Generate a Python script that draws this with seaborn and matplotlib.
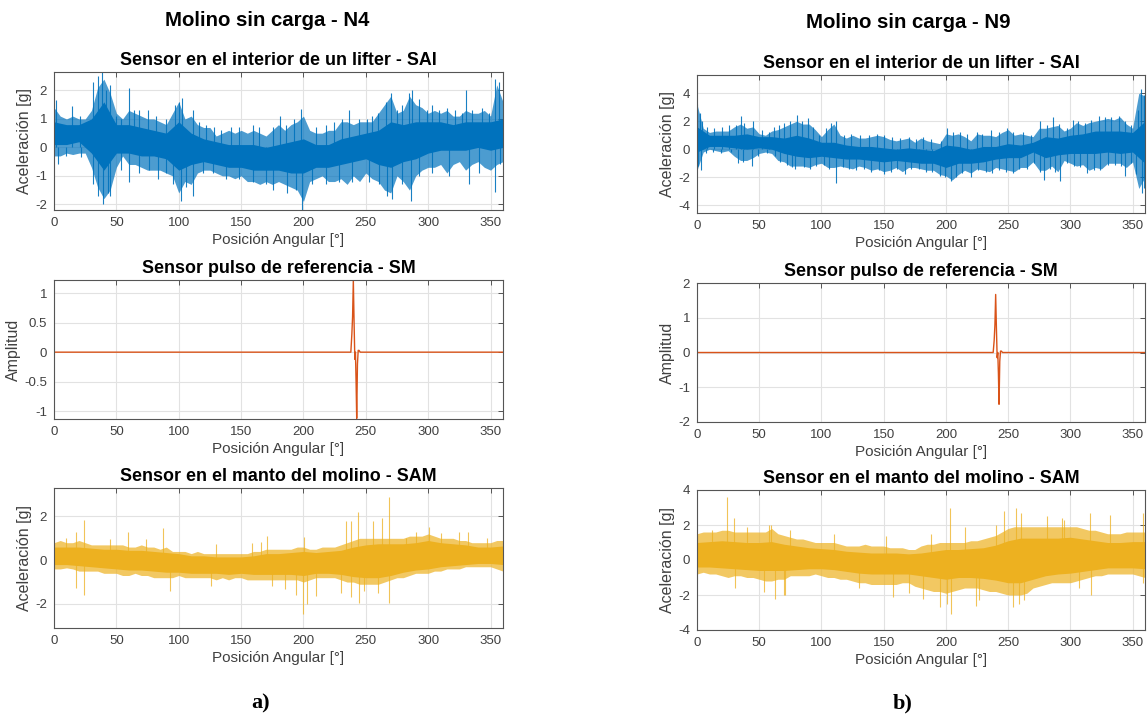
import numpy as np
import pandas as pd
import matplotlib
matplotlib.use('Agg')
import matplotlib.pyplot as plt
import seaborn as sns

sns.set_theme(style='white')
plt.rcParams['font.family'] = ['Liberation Sans', 'DejaVu Sans']

# ---------------- data ----------------
angle_env = list(range(0, 361, 5))     # outer envelope sample angles
angle_core = list(range(0, 361, 10))   # dense core sample angles

# N4 - SAI (sensor inside lifter)
n4_sai_hi = [1.4, 1.1, 1.0, 1.1, 1.0, 1.0, 1.3, 2.1, 2.4, 1.9, 1.2, 1.0, 1.3, 1.2, 1.1, 1.0, 1.0, 0.9, 0.8,
             1.2, 1.6, 1.0, 1.1, 0.8, 0.7, 0.7, 0.4, 0.5, 0.6, 0.5, 0.6, 0.5, 0.6, 0.5, 0.4, 0.6, 0.8,
             0.6, 0.8, 0.9, 1.1, 0.6, 0.5, 0.5, 0.6, 0.6, 0.9, 0.9, 0.8, 0.9, 0.9, 0.9, 1.2, 1.5, 1.8,
             1.2, 1.3, 1.8, 1.5, 1.4, 1.2, 1.3, 1.2, 1.3, 1.1, 1.1, 1.3, 1.2, 1.2, 1.3, 1.1, 2.2, 1.6]
n4_sai_lo = [-0.3, -0.3, -0.2, -0.25, -0.2, -0.2, -0.7, -1.4, -1.8, -1.5, -0.7, -0.3, -0.6, -0.6, -0.7, -0.8,
             -0.8, -0.8, -0.9, -1.0, -1.6, -1.2, -1.3, -0.9, -0.8, -0.8, -0.9, -1.0, -1.0, -1.1, -1.0, -1.2,
             -1.2, -1.3, -1.2, -1.3, -1.2, -1.3, -1.4, -1.5, -1.9, -1.2, -1.1, -1.0, -1.2, -1.2, -1.1, -1.3,
             -1.0, -1.2, -0.9, -1.1, -1.2, -1.5, -1.6, -1.0, -1.2, -1.5, -1.0, -0.8, -0.7, -0.7, -0.6, -0.9,
             -0.6, -0.5, -0.8, -0.6, -0.5, -0.7, -0.8, -0.6, -0.5]
n4_sai_core_lo = [0.1, 0.1, 0.2, -0.2, -0.8, -0.2, -0.2, -0.3, -0.3, -0.4, -0.8, -0.6, -0.5, -0.6, -0.7, -0.7,
                  -0.8, -0.8, -0.8, -0.9, -0.9, -0.7, -0.7, -0.6, -0.5, -0.4, -0.6, -0.7, -0.5, -0.4, -0.2,
                  -0.1, -0.1, -0.1, 0.0, -0.1, 0.0]
n4_sai_core_hi = [0.9, 0.8, 0.8, 1.0, 1.6, 0.8, 0.8, 0.7, 0.6, 0.5, 0.9, 0.5, 0.3, 0.2, 0.1, 0.1, 0.1, 0.0,
                  0.1, 0.2, 0.3, 0.1, 0.1, 0.3, 0.4, 0.5, 0.6, 0.9, 0.8, 0.9, 0.9, 0.9, 0.8, 0.9, 0.9, 0.9, 1.0]
n4_sai_peak_x = [1.9, 14.4, 20.5, 31.2, 35.2, 38.7, 41.9, 45.3, 49.9, 53.9, 60.5, 64, 68.5, 75.2, 81.9, 89.9,
                 97.3, 100.5, 102.7, 111.2, 116.5, 121.9, 128.5, 133.9, 141.9, 148.5, 159.2, 164.5, 175.2,
                 181.1, 185.9, 192.5, 198.4, 209.9, 217.9, 224.5, 231.2, 236.5, 244.5, 251.2, 255.2, 260,
                 265.9, 269.9, 275.2, 279.2, 284.5, 287.2, 292.5, 299.2, 303.2, 308.5, 315.2, 321.9, 327.2,
                 330.7, 335.2, 343.2, 348.5, 353.9, 356.5]
n4_sai_peak_y = [1.65, 1.45, 1.1, 2.3, 2.5, 2.65, 2.0, 2.2, 1.1, 1.0, 2.1, 1.3, 1.3, 1.3, 1.1, 1.0, 1.5, 1.6,
                 1.75, 1.3, 0.9, 0.8, 0.7, 0.6, 0.7, 0.7, 0.8, 0.7, 0.7, 1.1, 0.8, 1.0, 1.35, 0.7, 0.8, 0.9,
                 1.0, 1.3, 1.0, 1.0, 1.1, 1.2, 1.6, 1.9, 1.3, 1.5, 1.9, 2.0, 1.7, 1.3, 1.5, 1.3, 1.4, 1.3,
                 1.2, 2.0, 1.3, 1.4, 1.2, 2.4, 2.3]
n4_sai_trough_x = [3.2, 9.9, 21.9, 31.2, 35.2, 39.2, 43.2, 45.1, 53.9, 60.5, 68.5, 76.5, 83.2, 89.9, 95.2,
                   101.9, 105.9, 111.2, 119.2, 127.2, 137.9, 148.5, 159.2, 169.9, 175.2, 187.2, 193.9, 199.2,
                   207.2, 217.9, 228.5, 239.2, 252.5, 260.5, 267.2, 271.2, 279.2, 285.9, 292.5, 303.2, 316.5,
                   332.5, 340.5, 353.9, 357.9]
n4_sai_trough_y = [-0.6, -0.3, -0.35, -1.3, -1.7, -2.0, -1.6, -1.7, -0.8, -1.2, -0.9, -0.8, -1.1, -0.9, -1.3,
                   -1.9, -1.4, -1.7, -0.9, -0.9, -1.1, -1.1, -1.2, -1.3, -1.5, -1.6, -1.5, -2.2, -1.3, -1.3,
                   -1.2, -1.2, -1.2, -1.3, -1.7, -1.8, -1.3, -1.9, -1.0, -0.9, -1.0, -1.3, -0.9, -1.55, -0.6]

# N9 - SAI
n9_sai_hi = [3.2, 1.5, 1.2, 1.3, 1.3, 1.3, 1.6, 1.8, 1.5, 1.6, 1.1, 1.0, 1.3, 1.4, 1.6, 1.8, 2.0, 1.8, 1.8,
             1.4, 0.9, 1.4, 1.8, 1.0, 0.8, 1.0, 0.8, 0.8, 0.9, 1.0, 0.9, 0.7, 0.6, 0.7, 0.8, 0.5, 0.8,
             0.6, 0.5, 0.4, 1.1, 1.0, 1.1, 0.9, 0.6, 1.1, 1.0, 1.0, 0.9, 1.2, 1.4, 1.0, 1.1, 1.0, 0.9,
             1.5, 1.5, 1.6, 1.7, 1.3, 1.5, 1.9, 1.7, 1.9, 2.0, 2.1, 2.2, 2.1, 2.3, 1.8, 1.5, 4.0, 3.8]
n9_sai_lo = [-1.5, -0.2, 0.0, -0.1, -0.2, -0.1, -0.5, -0.8, -0.8, -0.6, -0.3, -0.2, -0.3, -0.8, -0.9, -1.2,
             -1.2, -1.2, -1.3, -1.1, -1.0, -1.3, -1.3, -1.2, -1.3, -1.4, -1.2, -1.3, -1.5, -1.4, -1.6, -1.5,
             -1.3, -1.6, -1.3, -1.3, -1.4, -1.5, -1.5, -1.8, -1.9, -2.2, -1.8, -1.5, -1.7, -1.4, -1.5, -1.6,
             -1.3, -1.4, -1.5, -1.6, -1.3, -1.3, -0.9, -1.5, -1.5, -1.2, -1.6, -0.8, -1.0, -1.2, -1.1, -1.5,
             -1.3, -1.4, -1.0, -1.0, -1.0, -1.3, -0.9, -2.8, -2.0]
n9_sai_core_lo = [-0.2, 0.2, 0.2, 0.1, 0.0, 0.1, 0.0, -0.3, -0.5, -0.6, -0.5, -0.6, -0.7, -0.7, -0.8, -0.9,
                  -0.8, -0.9, -1.0, -1.0, -1.3, -1.0, -1.0, -0.9, -0.7, -0.6, -0.6, -0.2, -0.6, -0.4, -0.3,
                  -0.3, -0.3, -0.2, -0.3, -0.2, -1.0]
n9_sai_core_hi = [1.6, 1.0, 1.0, 1.0, 1.1, 0.9, 0.9, 0.8, 1.0, 0.8, 0.5, 0.5, 0.3, 0.2, 0.2, 0.1, 0.0, 0.1,
                  0.0, -0.1, 0.3, 0.2, 0.0, 0.2, 0.2, 0.4, 0.3, 0.5, 0.9, 0.8, 1.0, 1.1, 1.3, 1.3, 1.3, 1.2, 2.0]
n9_sai_peak_x = [0.4, 2.5, 4, 8, 14, 20, 26, 31, 35, 38, 45, 52, 58, 62, 66, 70, 75, 80, 84, 89, 93, 98, 104,
                 108, 112, 118, 124, 131, 138, 145, 150, 157, 163, 170, 176, 182, 188, 196, 201, 206, 211,
                 217, 225, 229, 236, 243, 249, 254, 262, 268, 276, 281, 286, 291, 297, 302, 306, 312, 317,
                 323, 328, 333, 339, 344, 349, 354, 357, 359]
n9_sai_peak_y = [3.2, 2.6, 2.0, 1.6, 1.5, 1.6, 1.7, 1.7, 2.4, 1.9, 2.0, 1.4, 1.2, 1.6, 1.7, 1.9, 2.0, 2.45,
                 2.0, 2.2, 1.6, 1.0, 1.5, 1.9, 2.0, 1.0, 1.1, 1.0, 1.0, 1.1, 1.0, 0.9, 0.8, 0.9, 0.7, 0.9,
                 0.7, 0.6, 1.5, 1.2, 1.2, 1.1, 1.2, 1.1, 1.4, 1.2, 1.5, 1.2, 1.2, 1.0, 2.0, 1.7, 2.3, 1.8,
                 1.5, 2.1, 2.0, 1.9, 2.1, 2.4, 2.3, 2.3, 2.4, 2.0, 1.7, 2.8, 4.3, 3.9]
n9_sai_trough_x = [1, 3.5, 7, 13, 19, 27, 33, 37, 44, 49, 56, 63, 67, 72, 76, 79, 86, 91, 96, 102, 106, 112,
                   117, 122, 128, 134, 140, 146, 150, 156, 161, 167, 172, 178, 184, 189, 195, 199, 204, 208,
                   213, 220, 226, 232, 237, 243, 248, 254, 259, 265, 271, 276, 279, 284, 288, 292, 297, 303,
                   308, 313, 319, 324, 330, 336, 341, 344, 349, 353, 357.5, 359]
n9_sai_trough_y = [-1.2, -1.5, -0.3, -0.2, -0.3, -0.2, -1.0, -0.9, -1.2, -0.5, -0.3, -0.5, -0.9, -1.1, -1.3,
                   -1.4, -1.3, -1.4, -1.2, -1.1, -1.4, -2.4, -1.3, -1.4, -1.5, -1.4, -1.6, -1.5, -1.8, -1.6,
                   -1.4, -1.8, -1.4, -1.4, -1.6, -1.6, -1.9, -2.0, -2.25, -2.0, -1.7, -2.0, -1.5, -1.6, -1.7,
                   -1.5, -1.6, -1.7, -1.4, -1.4, -1.0, -1.6, -2.2, -1.4, -1.6, -2.3, -1.0, -1.2, -1.3, -1.7,
                   -1.5, -1.5, -1.1, -1.1, -1.2, -1.9, -1.0, -1.8, -3.1, -2.8]

# Pulse reference sensor - SM
pulse_x = [0, 238.0, 238.8, 239.4, 240.0, 240.6, 241.2, 241.7, 242.2, 242.7, 243.3, 243.9, 244.6, 245.5, 360]
n4_sm = [0, 0, 0.3, 0.6, 1.22, 0.5, -0.12, 0.0, -0.5, -1.12, -0.2, 0.03, 0.03, 0, 0]
n9_sm = [0, 0, 0.35, 0.8, 1.67, 0.7, -0.15, 0.0, -0.6, -1.49, -0.25, 0.04, 0.04, 0, 0]

# N4 - SAM (sensor on mill shell)
n4_sam_hi = [0.8, 0.9, 0.8, 0.8, 0.9, 0.8, 0.7, 0.7, 0.7, 0.7, 0.7, 0.7, 0.6, 0.6, 0.7, 0.6, 0.6, 0.5, 0.6,
             0.4, 0.4, 0.4, 0.3, 0.4, 0.3, 0.3, 0.3, 0.3, 0.3, 0.3, 0.3, 0.3, 0.4, 0.4, 0.5, 0.5, 0.5,
             0.5, 0.5, 0.6, 0.6, 0.5, 0.5, 0.6, 0.6, 0.6, 0.7, 0.8, 0.9, 1.0, 1.0, 1.0, 1.0, 1.0, 1.0,
             1.0, 1.0, 1.1, 1.1, 1.1, 1.2, 1.1, 1.0, 1.0, 1.0, 0.9, 0.9, 0.8, 0.8, 0.8, 0.8, 0.9, 0.9]
n4_sam_lo = [-0.4, -0.4, -0.35, -0.4, -0.5, -0.5, -0.5, -0.5, -0.6, -0.6, -0.6, -0.7, -0.7, -0.6, -0.7, -0.7,
             -0.8, -0.8, -0.8, -0.8, -0.7, -0.8, -0.8, -0.8, -0.8, -0.8, -0.9, -0.8, -0.9, -0.8, -0.8, -0.9,
             -0.9, -0.9, -0.9, -0.9, -0.9, -0.9, -0.9, -0.9, -1.0, -0.9, -0.8, -0.8, -0.8, -0.8, -0.9, -1.0,
             -1.0, -1.1, -1.1, -1.1, -1.1, -1.0, -0.9, -0.8, -0.8, -0.7, -0.6, -0.6, -0.6, -0.5, -0.5, -0.4,
             -0.4, -0.4, -0.3, -0.3, -0.3, -0.3, -0.3, -0.4, -0.5]
n4_sam_core_lo = [-0.2, -0.2, -0.25, -0.3, -0.35, -0.4, -0.45, -0.45, -0.5, -0.55, -0.55, -0.6, -0.6, -0.6,
                  -0.65, -0.6, -0.65, -0.65, -0.65, -0.65, -0.7, -0.6, -0.6, -0.65, -0.75, -0.8, -0.8, -0.7,
                  -0.55, -0.45, -0.4, -0.3, -0.25, -0.2, -0.15, -0.15, -0.2]
n4_sam_core_hi = [0.6, 0.6, 0.6, 0.55, 0.5, 0.5, 0.45, 0.45, 0.4, 0.35, 0.3, 0.2, 0.2, 0.15, 0.15, 0.15, 0.2,
                  0.3, 0.3, 0.35, 0.4, 0.35, 0.4, 0.45, 0.6, 0.7, 0.75, 0.75, 0.75, 0.8, 0.9, 0.8, 0.75, 0.7,
                  0.6, 0.6, 0.65]
n4_sam_spike_x = [10, 17.9, 18, 23.7, 24, 45, 59, 74, 87.7, 93, 126, 130, 159, 166, 171, 175, 185, 194, 200,
                  200.5, 203, 210, 230, 234, 238, 238.5, 244, 244.5, 248.5, 256, 260, 263, 268.5, 268.7, 282,
                  290, 300.5, 310, 325, 332, 347]
n4_sam_spike_y = [1.0, 1.3, -1.25, 1.85, -1.6, 0.95, 1.3, 0.95, 1.45, -1.4, -1.2, 0.75, 0.8, 0.85, 1.1, -1.2,
                  -1.3, -1.6, -2.45, 1.05, -2.0, -1.65, -1.5, 1.8, 1.8, -1.7, 2.2, -1.95, -1.4, 1.8, -1.5,
                  1.95, 2.9, -1.95, 1.0, 1.3, 1.5, 1.25, 1.3, 1.3, 1.0]

# N9 - SAM
n9_sam_hi = [1.5, 1.6, 1.6, 1.6, 1.7, 1.7, 1.6, 1.6, 1.6, 1.6, 1.6, 1.6, 1.8, 1.5, 1.4, 1.3, 1.2, 1.2, 1.1,
             1.0, 1.0, 1.0, 1.0, 0.9, 0.8, 0.8, 0.8, 0.9, 0.8, 0.8, 0.8, 0.7, 0.7, 0.7, 0.6, 0.6, 0.8,
             0.9, 0.9, 1.0, 1.0, 1.0, 1.0, 1.0, 1.1, 1.1, 1.2, 1.3, 1.4, 1.6, 1.8, 1.9, 1.9, 1.9, 1.9,
             1.9, 1.9, 1.9, 1.9, 1.9, 1.9, 1.9, 1.8, 1.7, 1.7, 1.6, 1.5, 1.5, 1.5, 1.6, 1.6, 1.6, 1.6]
n9_sam_lo = [-0.8, -0.7, -0.8, -0.8, -0.9, -1.0, -0.9, -0.9, -1.0, -1.0, -1.1, -1.2, -1.2, -1.1, -1.1, -0.9,
             -0.9, -0.9, -0.9, -0.8, -0.9, -1.0, -1.0, -1.1, -1.1, -1.2, -1.3, -1.3, -1.4, -1.4, -1.4, -1.4,
             -1.4, -1.3, -1.3, -1.5, -1.6, -1.7, -1.8, -1.8, -1.9, -1.8, -1.7, -1.6, -1.6, -1.6, -1.7, -1.8,
             -1.8, -1.9, -2.0, -2.0, -2.0, -1.9, -1.6, -1.5, -1.4, -1.3, -1.3, -1.3, -1.3, -1.2, -1.1, -1.0,
             -0.9, -0.9, -0.8, -0.8, -0.8, -0.8, -0.8, -0.9, -1.0]
n9_sam_core_lo = [-0.4, -0.4, -0.45, -0.5, -0.55, -0.6, -0.6, -0.6, -0.55, -0.5, -0.5, -0.55, -0.65, -0.75,
                  -0.8, -0.8, -0.8, -0.8, -0.9, -1.0, -1.1, -1.0, -1.0, -1.05, -1.15, -1.3, -1.3, -1.1, -0.9,
                  -0.8, -0.75, -0.65, -0.55, -0.45, -0.45, -0.45, -0.5]
n9_sam_core_hi = [1.0, 1.05, 1.1, 1.05, 1.0, 1.0, 1.05, 0.9, 0.8, 0.7, 0.65, 0.6, 0.5, 0.45, 0.4, 0.4, 0.4,
                  0.35, 0.4, 0.5, 0.6, 0.6, 0.65, 0.7, 0.85, 1.1, 1.25, 1.25, 1.25, 1.25, 1.3, 1.2, 1.1, 1.0,
                  1.0, 1.05, 1.05]
n9_sam_spike_x = [12, 24, 30, 30.5, 40, 53.6, 57.6, 59.5, 62.4, 69.6, 71, 75, 110, 130, 152, 157.6, 170, 182,
                  188, 195, 201, 203, 204, 215, 224, 227, 240, 247, 253.6, 256, 259, 260, 263, 281.6, 293.6,
                  295, 307, 316, 316.5, 332, 358.4, 358.6]
n9_sam_spike_y = [1.7, 3.6, 2.4, -1.6, 1.9, -1.8, 2.0, 2.0, -2.2, -2.0, -2.0, 1.7, 1.5, -1.6, 1.4, -2.1, -1.9,
                  -2.2, 1.5, -2.7, -2.5, 2.95, -3.1, 1.9, -2.6, -2.3, 2.0, 2.8, -2.7, 3.0, -2.5, 2.7, -2.3,
                  2.5, 2.4, 2.3, -1.6, 2.7, -2.0, 2.6, 2.7, -1.3]

# ---------------- style ----------------
BLUE = '#0072BD'
ORANGE = '#D95319'
YELLOW = '#EDB120'
W, H = 1147, 715

fig = plt.figure(figsize=(W / 100, H / 100), dpi=100)
fig.patch.set_facecolor('white')


def add_axes(x0, x1, ytop, ybot):
    return fig.add_axes([x0 / W, 1 - ybot / H, (x1 - x0) / W, (ybot - ytop) / H])


def style(ax, ylim, yticks, title, ylabel):
    ax.set_xlim(0, 360)
    ax.set_xticks(list(range(0, 351, 50)))
    ax.set_ylim(*ylim)
    ax.set_yticks(yticks)
    ax.set_yticklabels([('%g' % t) for t in yticks])
    ax.grid(True, color='#e2e2e2', lw=0.8)
    ax.set_axisbelow(True)
    for s in ax.spines.values():
        s.set_color('#555555')
        s.set_linewidth(0.8)
    ax.tick_params(axis='both', which='major', direction='in', length=3.5, width=0.7,
                   color='#555555', labelcolor='#404040', labelsize=9.5, top=True, right=True, pad=5)
    ax.set_title(title, fontsize=12.9, fontweight='bold', color='black', pad=5)
    ax.set_xlabel('Posición Angular [°]', fontsize=11, color='#404040', labelpad=3)
    ax.set_ylabel(ylabel, fontsize=11.5, color='#404040', labelpad=2)


def noise(ax, hi, lo, chi, clo, sx, sy, color, a_outer, a_spike, lw_spike):
    ax.fill_between(angle_env, lo, hi, color=color, alpha=a_outer, lw=0)
    ax.fill_between(angle_core, clo, chi, color=color, alpha=1.0, lw=0)
    ax.vlines(sx, 0, sy, color=color, lw=lw_spike, alpha=a_spike)


cols = [
    dict(x0=54, x1=503, tops=[(72, 210), (280, 419), (488, 628)], sup='Molino sin carga - N4',
         sup_xy=(267, 20), lab='a)', lab_xy=(261, 703),
         sai=(n4_sai_hi, n4_sai_lo, n4_sai_core_hi, n4_sai_core_lo,
              n4_sai_peak_x + n4_sai_trough_x, n4_sai_peak_y + n4_sai_trough_y),
         sai_ylim=(-2.2, 2.65), sai_yt=[-2, -1, 0, 1, 2],
         sm=n4_sm, sm_ylim=(-1.13, 1.22), sm_yt=[-1, -0.5, 0, 0.5, 1],
         sam=(n4_sam_hi, n4_sam_lo, n4_sam_core_hi, n4_sam_core_lo, n4_sam_spike_x, n4_sam_spike_y),
         sam_ylim=(-3.1, 3.3), sam_yt=[-2, 0, 2]),
    dict(x0=697, x1=1145, tops=[(75, 213), (283, 422), (490, 630)], sup='Molino sin carga - N9',
         sup_xy=(908, 22), lab='b)', lab_xy=(903, 703),
         sai=(n9_sai_hi, n9_sai_lo, n9_sai_core_hi, n9_sai_core_lo,
              n9_sai_peak_x + n9_sai_trough_x, n9_sai_peak_y + n9_sai_trough_y),
         sai_ylim=(-4.55, 5.3), sai_yt=[-4, -2, 0, 2, 4],
         sm=n9_sm, sm_ylim=(-2, 2), sm_yt=[-2, -1, 0, 1, 2],
         sam=(n9_sam_hi, n9_sam_lo, n9_sam_core_hi, n9_sam_core_lo, n9_sam_spike_x, n9_sam_spike_y),
         sam_ylim=(-4, 4), sam_yt=[-4, -2, 0, 2, 4]),
]

for c in cols:
    ax1 = add_axes(c['x0'], c['x1'], *c['tops'][0])
    hi, lo, chi, clo, sx, sy = c['sai']
    noise(ax1, hi, lo, chi, clo, sx, sy, BLUE, 0.7, 0.9, 0.8)
    style(ax1, c['sai_ylim'], c['sai_yt'], 'Sensor en el interior de un lifter - SAI', 'Aceleración [g]')

    ax2 = add_axes(c['x0'], c['x1'], *c['tops'][1])
    df = pd.DataFrame({'angle': pulse_x, 'amp': c['sm']})
    sns.lineplot(data=df, x='angle', y='amp', ax=ax2, color=ORANGE, lw=1.0, estimator=None)
    style(ax2, c['sm_ylim'], c['sm_yt'], 'Sensor pulso de referencia - SM', 'Amplitud')

    ax3 = add_axes(c['x0'], c['x1'], *c['tops'][2])
    hi, lo, chi, clo, sx, sy = c['sam']
    noise(ax3, hi, lo, chi, clo, sx, sy, YELLOW, 0.7, 0.75, 0.8)
    style(ax3, c['sam_ylim'], c['sam_yt'], 'Sensor en el manto del molino - SAM', 'Aceleración [g]')

    fig.text(c['sup_xy'][0] / W, 1 - c['sup_xy'][1] / H, c['sup'], ha='center', va='center',
             fontsize=14.7, fontweight='bold', color='black')
    fig.text(c['lab_xy'][0] / W, 1 - c['lab_xy'][1] / H, c['lab'], ha='center', va='center',
             fontsize=16, fontweight='bold', color='black', family=['Liberation Serif', 'DejaVu Serif'])

fig.savefig('out.png', dpi=100, facecolor='white')
